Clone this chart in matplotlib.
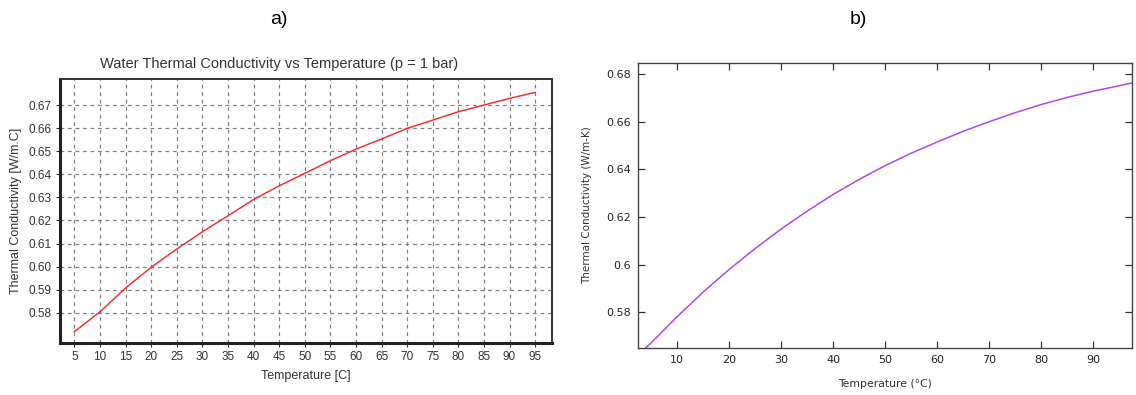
import matplotlib
matplotlib.use("Agg")
import matplotlib.pyplot as plt

# Panel a: tabulated conductivity of water at 1 bar
temp_a = [5, 10, 15, 20, 25, 30, 35, 40, 45, 50, 55, 60, 65, 70, 75, 80, 85, 90, 95]
k_a = [0.5718, 0.5804, 0.5907, 0.5997, 0.6076, 0.6151, 0.6220, 0.6291, 0.6350,
       0.6404, 0.6459, 0.6509, 0.6553, 0.6599, 0.6635, 0.6671, 0.6700, 0.6729, 0.6755]
xticks_a = list(range(5, 100, 5))
yticks_a = [0.58, 0.59, 0.60, 0.61, 0.62, 0.63, 0.64, 0.65, 0.66, 0.67]

# Panel b: conductivity curve
temp_b = [4.0, 5, 10, 15, 20, 25, 30, 35, 40, 45, 50, 55, 60, 65, 70, 75, 80, 85, 90, 95, 97.4]
k_b = [0.5652, 0.5672, 0.5782, 0.5885, 0.5980, 0.6068, 0.6150, 0.6225, 0.6295, 0.6358,
       0.6416, 0.6468, 0.6515, 0.6560, 0.6600, 0.6638, 0.6672, 0.6702, 0.6728, 0.6751, 0.6762]
xticks_b = [10, 20, 30, 40, 50, 60, 70, 80, 90]
yticks_b = [0.58, 0.60, 0.62, 0.64, 0.66, 0.68]
ytick_labels_b = ["0.58", "0.6", "0.62", "0.64", "0.66", "0.68"]

W, H = 1136, 395
fig = plt.figure(figsize=(W / 100, H / 100), dpi=100)


def box(l, t, r, b):
    return [l / W, 1 - b / H, (r - l) / W, (b - t) / H]


# ---------- a) ----------
ax = fig.add_axes(box(60, 79, 552, 343))
ax.plot(temp_a, k_a, color="#ff2020", lw=1.0)
ax.set_xlim(2.2, 98.3)
ax.set_ylim(0.5669, 0.6813)
ax.set_xticks(xticks_a)
ax.set_yticks(yticks_a)
ax.set_yticklabels([f"{v:.2f}" for v in yticks_a])
ax.grid(True, color="#808080", ls=(0, (3, 3)), lw=0.9)
ax.tick_params(labelsize=8.5, length=3, width=0.8, color="#333333", pad=3)
for lab in ax.get_xticklabels() + ax.get_yticklabels():
    lab.set_family("Liberation Sans")
    lab.set_color("#333333")
for s in ("top", "right"):
    ax.spines[s].set_linewidth(1.4)
    ax.spines[s].set_color("#333333")
for s in ("bottom", "left"):
    ax.spines[s].set_linewidth(2.2)
    ax.spines[s].set_color("#222222")
ax.set_xlabel("Temperature [C]", fontsize=9, family="Liberation Sans", color="#333333", labelpad=5)
ax.set_ylabel("Thermal Conductivity [W/m.C]", fontsize=9, family="Liberation Sans",
              color="#333333", labelpad=5)
fig.text(279 / W, 1 - 64 / H, "Water Thermal Conductivity vs Temperature (p = 1 bar)",
         ha="center", va="center", fontsize=10.5, family="Liberation Sans", color="#333333")

# ---------- b) ----------
bx = fig.add_axes(box(638, 63, 1132, 348))
bx.plot(temp_b, k_b, color="#b048ec", lw=1.1)
bx.set_xlim(2.5, 97.4)
bx.set_ylim(0.5651, 0.6846)
bx.set_xticks(xticks_b)
bx.set_yticks(yticks_b)
bx.set_yticklabels(ytick_labels_b)
bx.tick_params(direction="in", top=True, right=True, length=5, width=0.9,
               labelsize=8, color="#333333", pad=5)
for lab in bx.get_xticklabels() + bx.get_yticklabels():
    lab.set_color("#222222")
for s in bx.spines.values():
    s.set_linewidth(1.0)
    s.set_color("#444444")
bx.set_xlabel("Temperature (°C)", fontsize=7.8, color="#333333", labelpad=10)
bx.set_ylabel("Thermal Conductivity (W/m-K)", fontsize=7.5, color="#333333", labelpad=10)

# panel tags
fig.text(279 / W, 1 - 20 / H, "a)", ha="center", va="center", fontsize=14, family="Liberation Sans")
fig.text(858 / W, 1 - 20 / H, "b)", ha="center", va="center", fontsize=14, family="Liberation Sans")

fig.savefig("out.png", dpi=100)
